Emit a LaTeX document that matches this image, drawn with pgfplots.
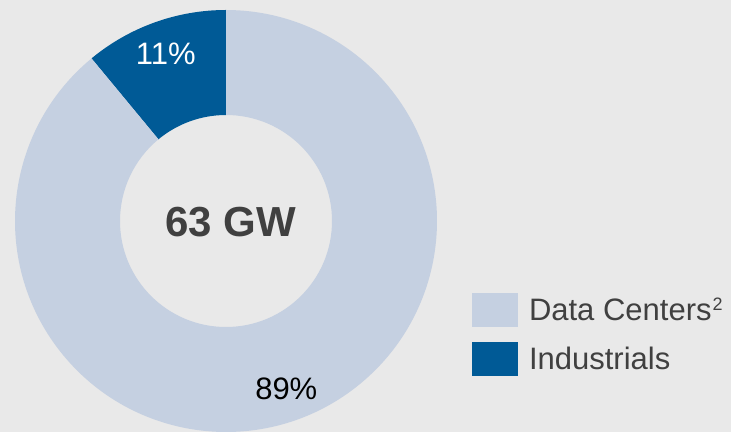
\documentclass[border=0pt]{standalone}
\usepackage{pgfplots}
\pgfplotsset{compat=1.18}
\usepackage{pgfplotstable}
\usepackage{fontspec}
\setmainfont{Liberation Sans}

\definecolor{bgcol}{HTML}{E9E9E9}
\definecolor{dclight}{HTML}{C5D0E1}
\definecolor{inddark}{HTML}{005A96}
\definecolor{txt}{HTML}{404040}

% share of 63 GW, in percent
\pgfplotstableread{
label value
Industrials 11
DataCenters 89
}\sharedata

\begin{document}
\begin{tikzpicture}
\fill[bgcol] (0,0) rectangle (731bp,432bp);
\pgfplotstablegetelem{0}{value}\of\sharedata \let\vind\pgfplotsretval
\pgfplotstablegetelem{1}{value}\of\sharedata \let\vdc\pgfplotsretval
\pgfmathsetmacro\aA{90}
\pgfmathsetmacro\aB{90+3.6*\vind}
\pgfmathsetmacro\aC{\aB+3.6*\vdc}
\pgfmathsetmacro\mA{(\aA+\aB)/2}
\pgfmathsetmacro\mB{(\aB+\aC)/2}
\begin{axis}[
  width=731bp, height=432bp, scale only axis,
  xmin=0, xmax=731, ymin=0, ymax=432,
  hide axis, clip=false,
  legend style={draw=none, fill=none, inner sep=0pt, outer sep=0pt,
    at={(axis cs:472,139)}, anchor=north west,
    font=\fontsize{31bp}{36bp}\selectfont, text=txt,
    row sep=15bp, column sep=11bp,
    nodes={inner sep=0pt}},
  legend cell align=left,
  legend image code/.code={\fill (0bp,-17bp) rectangle (46bp,17bp);},
]
% donut slices, angles from the table
\fill[inddark] ([shift={(\aA:211bp)}]axis cs:226,211)
  arc[start angle=\aA, end angle=\aB, radius=211bp]
  -- ([shift={(\aB:106bp)}]axis cs:226,211)
  arc[start angle=\aB, end angle=\aA, radius=106bp] -- cycle;
\fill[dclight] ([shift={(\aB:211bp)}]axis cs:226,211)
  arc[start angle=\aB, end angle=\aC, radius=211bp]
  -- ([shift={(\aC:106bp)}]axis cs:226,211)
  arc[start angle=\aC, end angle=\aB, radius=106bp] -- cycle;

\node[white, font=\fontsize{31bp}{36bp}\selectfont, anchor=base, yshift=-11bp, inner sep=0pt]
  at ([shift={(\mA:178bp)}]axis cs:226,211) {\vind\%};
\node[black, font=\fontsize{31bp}{36bp}\selectfont, anchor=base, yshift=-11bp, inner sep=0pt]
  at ([shift={(\mB:178bp)}]axis cs:226,211) {\vdc\%};
\node[txt, font=\fontsize{42bp}{48bp}\selectfont\bfseries, anchor=base, inner sep=0pt]
  at (axis cs:230.5,195) {63 GW};

\addlegendimage{fill=dclight, draw=none}
\addlegendentry{Data Centers\kern1bp\raisebox{10bp}{\fontsize{18bp}{18bp}\selectfont 2}}
\addlegendimage{fill=inddark, draw=none}
\addlegendentry{Industrials}
\end{axis}
\pgfresetboundingbox
\path[use as bounding box] (0,0) rectangle (731bp,432bp);
\end{tikzpicture}
\end{document}
